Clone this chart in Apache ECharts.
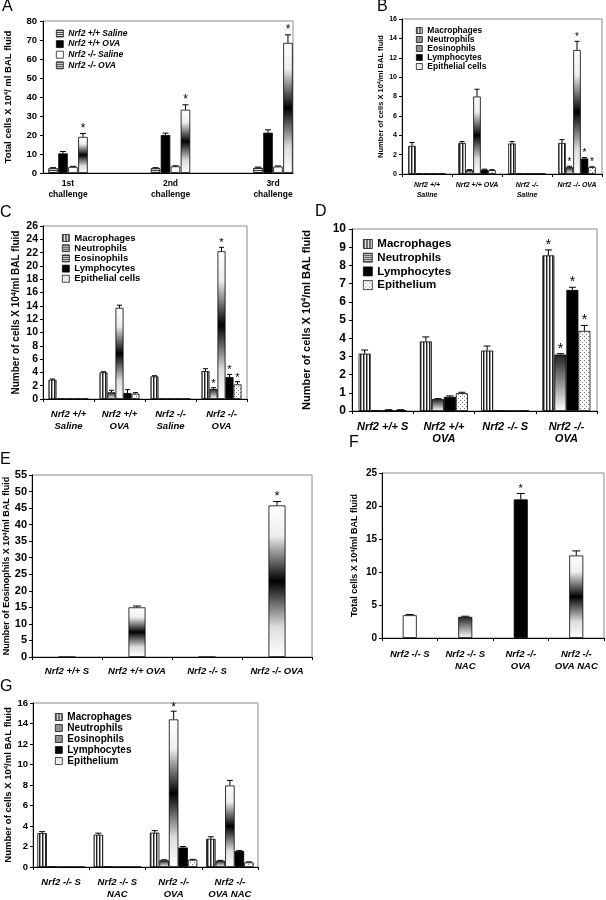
<!DOCTYPE html>
<html>
<head>
<meta charset="utf-8">
<script src="https://cdn.jsdelivr.net/npm/echarts@6/dist/echarts.min.js"></script>
<style>
  html, body { margin: 0; padding: 0; background: #fff; }
  #main { width: 606px; height: 900px; }
</style>
</head>
<body>
<div id="main"></div>
<script>
// ---- panel A: total cells after each challenge
const aCats = ['1st\nchallenge', '2nd\nchallenge', '3rd\nchallenge'];
const aNames = ['Nrf2 +/+ Saline', 'Nrf2 +/+ OVA', 'Nrf2 -/- Saline', 'Nrf2 -/- OVA'];
const aWtSal = [2.5, 2.5, 2.8];
const aWtOva = [10.3, 20.0, 21.2];
const aKoSal = [3.2, 3.5, 3.4];
const aKoOva = [19.0, 33.3, 68.5];
const aWtSalErr = [0.3, 0.3, 0.3];
const aWtOvaErr = [1.0, 1.0, 1.5];
const aKoSalErr = [0.3, 0.3, 0.3];
const aKoOvaErr = [1.8, 2.6, 4.2];
const aKoOvaSig = [1, 1, 1];

// ---- panel B
const bCats = ['Nrf2 +/+\nSaline', 'Nrf2 +/+ OVA', 'Nrf2 -/-\nSaline', 'Nrf2 -/- OVA'];
const bMac = [2.9, 3.2, 3.15, 3.2];
const bMacErr = [0.35, 0.15, 0.2, 0.35];
const bNeu = [0.05, 0.4, 0.05, 0.7];
const bNeuErr = [0, 0.05, 0, 0.1];
const bNeuSig = [0, 0, 0, 1];
const bEos = [0.05, 8.0, 0.05, 12.8];
const bEosErr = [0, 0.75, 0, 0.9];
const bEosSig = [0, 0, 0, 1];
const bLym = [0.05, 0.45, 0.05, 1.6];
const bLymErr = [0, 0.05, 0, 0.1];
const bLymSig = [0, 0, 0, 1];
const bEpi = [0.05, 0.4, 0.05, 0.7];
const bEpiErr = [0, 0.05, 0, 0.05];
const bEpiSig = [0, 0, 0, 1];

// ---- panel C
const cCats = ['Nrf2 +/+\nSaline', 'Nrf2 +/+\nOVA', 'Nrf2 -/-\nSaline', 'Nrf2 -/-\nOVA'];
const cMac = [2.9, 4.0, 3.4, 4.2];
const cMacErr = [0.1, 0.1, 0.1, 0.35];
const cNeu = [0.05, 1.0, 0.05, 1.5];
const cNeuErr = [0, 0.3, 0, 0.2];
const cNeuSig = [0, 0, 0, 1];
const cEos = [0.05, 13.7, 0.05, 22.2];
const cEosErr = [0, 0.4, 0, 0.6];
const cEosSig = [0, 0, 0, 1];
const cLym = [0.05, 0.9, 0.05, 3.3];
const cLymErr = [0, 0.5, 0, 0.4];
const cLymSig = [0, 0, 0, 1];
const cEpi = [0.05, 0.8, 0.05, 2.2];
const cEpiErr = [0, 0.15, 0, 0.4];
const cEpiSig = [0, 0, 0, 1];

// ---- panel D
const dCats = ['Nrf2 +/+ S', 'Nrf2 +/+\nOVA', 'Nrf2 -/- S', 'Nrf2 -/-\nOVA'];
const dMac = [3.15, 3.82, 3.32, 8.55];
const dMacErr = [0.2, 0.25, 0.25, 0.3];
const dMacSig = [0, 0, 0, 1];
const dNeu = [0.04, 0.65, 0.03, 3.1];
const dNeuErr = [0, 0.03, 0, 0.05];
const dNeuSig = [0, 0, 0, 1];
const dLym = [0.04, 0.78, 0.02, 6.65];
const dLymErr = [0.03, 0.05, 0, 0.15];
const dLymSig = [0, 0, 0, 1];
const dEpi = [0.05, 0.98, 0.02, 4.4];
const dEpiErr = [0.02, 0.05, 0, 0.3];
const dEpiSig = [0, 0, 0, 1];

// ---- panel E
const eCats = ['Nrf2 +/+ S', 'Nrf2 +/+ OVA', 'Nrf2 -/- S', 'Nrf2 -/- OVA'];
const eEos = [0, 15.0, 0, 45.8];
const eEosErr = [0, 0.4, 0, 1.2];
const eEosSig = [0, 0, 0, 1];

// ---- panel F
const fCats = ['Nrf2 -/- S', 'Nrf2 -/- S\nNAC', 'Nrf2 -/-\nOVA', 'Nrf2 -/-\nOVA NAC'];
const fTotal = [3.45, 3.2, 21.0, 12.5];
const fTotalErr = [0.1, 0.1, 0.9, 0.7];
const fTotalSig = [0, 0, 1, 0];

// ---- panel G
const gCats = ['Nrf2 -/- S', 'Nrf2 -/- S\nNAC', 'Nrf2 -/-\nOVA', 'Nrf2 -/-\nOVA NAC'];
const gMac = [3.3, 3.15, 3.35, 2.75];
const gMacErr = [0.15, 0.15, 0.2, 0.2];
const gNeu = [0.05, 0.05, 0.65, 0.6];
const gNeuErr = [0, 0, 0.05, 0.05];
const gEos = [0.02, 0.02, 14.4, 7.95];
const gEosErr = [0, 0, 0.8, 0.5];
const gEosSig = [0, 0, 1, 0];
const gLym = [0.02, 0.02, 1.9, 1.55];
const gLymErr = [0, 0, 0.1, 0.05];
const gEpi = [0.02, 0.02, 0.7, 0.45];
const gEpiErr = [0, 0, 0.05, 0.05];

const FONT = '"Liberation Sans", Arial, sans-serif';

// fill patterns
function pattern(w, h, draw) {
  const c = document.createElement('canvas');
  c.width = w; c.height = h;
  draw(c.getContext('2d'));
  return { image: c, repeat: 'repeat' };
}
const MAC = pattern(3, 1, g => {
  g.fillStyle = '#fff'; g.fillRect(0, 0, 3, 1);
  g.fillStyle = '#222'; g.fillRect(0, 0, 1, 1);
  g.fillStyle = '#999'; g.fillRect(1, 0, 1, 1);
});
const HSTRIPE = pattern(1, 2, g => {
  g.fillStyle = '#ddd'; g.fillRect(0, 0, 1, 2);
  g.fillStyle = '#444'; g.fillRect(0, 0, 1, 1);
});
const DOTS = pattern(4, 4, g => {
  g.fillStyle = '#fff'; g.fillRect(0, 0, 4, 4);
  g.fillStyle = '#777'; g.fillRect(0, 0, 1, 1); g.fillRect(2, 2, 1, 1);
});
const NEU = new echarts.graphic.LinearGradient(0, 0, 0, 1, [
  { offset: 0, color: '#222' }, { offset: 1, color: '#fff' }
]);
const EOS = new echarts.graphic.LinearGradient(0, 0, 0, 1, [
  { offset: 0, color: '#fff' }, { offset: 0.2, color: '#eee' },
  { offset: 0.5, color: '#000' },
  { offset: 0.8, color: '#ddd' }, { offset: 1, color: '#fff' }
]);

const option = {
  animation: false,
  backgroundColor: '#fff',
  textStyle: { fontFamily: FONT },
  title: [], grid: [], xAxis: [], yAxis: [], legend: [], series: []
};

function errBar(off, capW, starSize, starGap) {
  return function (params, api) {
    const ci = api.value(0), v = api.value(1), e = api.value(2), s = api.value(3);
    const p0 = api.coord([ci, v]);
    const p1 = api.coord([ci, v + e]);
    const x = p0[0] + off;
    const kids = [];
    if (e > 0) {
      kids.push({ type: 'line', shape: { x1: x, y1: p0[1], x2: x, y2: p1[1] }, style: { stroke: '#000', lineWidth: 1 } });
      kids.push({ type: 'line', shape: { x1: x - capW / 2, y1: p1[1], x2: x + capW / 2, y2: p1[1] }, style: { stroke: '#000', lineWidth: 1 } });
    }
    if (s) {
      kids.push({ type: 'text', x: x, y: p1[1] - starGap,
        style: { text: '*', align: 'center', verticalAlign: 'middle', fontSize: starSize, fontFamily: FONT, fill: '#000' } });
    }
    return { type: 'group', children: kids };
  };
}

function addPanel(p) {
  const [x0, y0, x1, y1] = p.frame;
  option.title.push({ text: p.letter, left: p.letterPos[0], top: p.letterPos[1], padding: 0,
    textStyle: { fontSize: 16, fontWeight: 'normal', fontFamily: FONT, color: '#000' } });
  const fg = option.grid.length;
  option.grid.push({ left: x0, top: y0, width: x1 - x0, height: y1 - y0, show: true,
    borderColor: '#8c8c8c', borderWidth: 1, backgroundColor: 'transparent' });
  const fy = option.yAxis.length;
  option.yAxis.push({
    type: 'value', gridIndex: fg, min: 0, max: p.max, interval: p.step,
    name: '{t|' + p.yName[0] + '}{s|4}{t|' + p.yName[1] + '}',
    nameLocation: 'middle', nameGap: p.nameGap,
    nameTextStyle: { rich: {
      t: { fontSize: p.nameSize, fontWeight: 'bold', fontFamily: FONT, color: '#000' },
      s: { fontSize: Math.round(p.nameSize * 0.65), fontWeight: 'bold', fontFamily: FONT, color: '#000', verticalAlign: 'top' }
    } },
    axisLine: { show: true, lineStyle: { color: '#000', width: 1 } },
    axisTick: { show: true, length: 3, lineStyle: { color: '#000' } },
    axisLabel: { fontSize: p.tickSize, fontWeight: 'bold', color: '#000', margin: p.tickMargin, fontFamily: FONT },
    splitLine: { show: false }
  });
  const catLabel = { interval: 0, fontSize: p.catSize, fontWeight: 'bold', fontStyle: p.catItalic ? 'italic' : 'normal',
    color: '#000', lineHeight: p.catLine, margin: p.catMargin, fontFamily: FONT };
  let bx, by = fy;
  if (p.barsX) {
    // frame axis only, bars sit on a wider hidden grid
    option.xAxis.push({ type: 'value', gridIndex: fg, min: 0, max: 1,
      axisLine: { show: true, lineStyle: { color: '#000' } }, axisTick: { show: false },
      axisLabel: { show: false }, splitLine: { show: false } });
    const bg = option.grid.length;
    option.grid.push({ left: p.barsX[0], top: y0, width: p.barsX[1] - p.barsX[0], height: y1 - y0, show: false });
    by = option.yAxis.length;
    option.yAxis.push({ type: 'value', gridIndex: bg, min: 0, max: p.max, show: false, splitLine: { show: false } });
    bx = option.xAxis.length;
    option.xAxis.push({ type: 'category', gridIndex: bg, data: p.cats,
      axisLine: { show: false }, axisTick: { show: false }, axisLabel: catLabel });
  } else {
    bx = option.xAxis.length;
    option.xAxis.push({ type: 'category', gridIndex: fg, data: p.cats,
      axisLine: { show: true, lineStyle: { color: '#000', width: 1 } },
      axisTick: { show: true, length: 3, lineStyle: { color: '#000' } },
      axisLabel: catLabel });
  }
  const n = p.series.length;
  p.series.forEach((s, i) => {
    const data = s.colors ? s.data.map((v, k) => ({ value: v, itemStyle: { color: s.colors[k] } })) : s.data;
    option.series.push({ type: 'bar', name: s.name, xAxisIndex: bx, yAxisIndex: by, data: data,
      barWidth: p.barW, barGap: (p.gap * 100) + '%', silent: true,
      itemStyle: { color: s.color || '#fff', borderColor: '#000', borderWidth: 0.8 } });
    const off = (i - (n - 1) / 2) * p.barW * (1 + p.gap);
    option.series.push({ type: 'custom', xAxisIndex: bx, yAxisIndex: by, silent: true, z: 5,
      renderItem: errBar(off, p.capW, p.starSize, p.starGap),
      data: s.data.map((v, k) => [k, v, s.err ? s.err[k] : 0, s.sig ? s.sig[k] : 0]) });
  });
  if (p.legend) {
    const L = p.legend;
    option.legend.push({
      left: L.x, top: L.y, orient: 'vertical', padding: 0, selectedMode: false,
      itemWidth: L.icon, itemHeight: L.icon, itemGap: L.gap,
      data: p.series.map(s => ({ name: s.name, icon: 'rect',
        itemStyle: { color: s.legendColor || s.color, borderColor: '#000', borderWidth: 0.7 } })),
      textStyle: { fontSize: L.font, fontWeight: 'bold', fontStyle: L.italic ? 'italic' : 'normal',
        color: '#000', lineHeight: L.lh, fontFamily: FONT }
    });
  }
}

const cellName = ['Number of cells X 10', '/ml BAL fluid'];

addPanel({
  letter: 'A', letterPos: [2, -1], frame: [43, 21, 293, 173], barsX: [16.75, 324.25],
  cats: aCats, max: 80, step: 10, yName: ['Total cells X 10', '/ ml BAL fluid'],
  nameSize: 9.5, nameGap: 30, tickSize: 9.5, tickMargin: 6,
  catSize: 8.5, catItalic: false, catLine: 11, catMargin: 5.5,
  barW: 9.5, gap: 0.05, capW: 6, starSize: 12, starGap: 5,
  legend: { x: 56, y: 29, icon: 7, gap: 1.6, font: 8.5, italic: true, lh: 9 },
  series: [
    { name: aNames[0], data: aWtSal, err: aWtSalErr, color: HSTRIPE },
    { name: aNames[1], data: aWtOva, err: aWtOvaErr, color: '#000' },
    { name: aNames[2], data: aKoSal, err: aKoSalErr, color: '#fff' },
    { name: aNames[3], data: aKoOva, err: aKoOvaErr, sig: aKoOvaSig, color: EOS, legendColor: HSTRIPE }
  ]
});

addPanel({
  letter: 'B', letterPos: [377, -1], frame: [402, 19, 602, 174],
  cats: bCats, max: 16, step: 2, yName: cellName,
  nameSize: 7.5, nameGap: 14, tickSize: 7, tickMargin: 5,
  catSize: 7, catItalic: true, catLine: 10, catMargin: 6,
  barW: 7.5, gap: 0, capW: 5, starSize: 10, starGap: 4,
  legend: { x: 416, y: 26, icon: 6, gap: 0, font: 8.5, italic: false, lh: 8.5 },
  series: [
    { name: 'Macrophages', data: bMac, err: bMacErr, color: MAC },
    { name: 'Neutrophils', data: bNeu, err: bNeuErr, sig: bNeuSig, color: NEU, legendColor: HSTRIPE },
    { name: 'Eosinophils', data: bEos, err: bEosErr, sig: bEosSig, color: EOS, legendColor: HSTRIPE },
    { name: 'Lymphocytes', data: bLym, err: bLymErr, sig: bLymSig, color: '#000' },
    { name: 'Epithelial cells', data: bEpi, err: bEpiErr, sig: bEpiSig, color: DOTS }
  ]
});

addPanel({
  letter: 'C', letterPos: [0, 205], frame: [43, 226, 247, 399],
  cats: cCats, max: 26, step: 2, yName: cellName,
  nameSize: 10, nameGap: 22, tickSize: 10.5, tickMargin: 5,
  catSize: 9.5, catItalic: true, catLine: 12, catMargin: 9,
  barW: 8, gap: 0, capW: 5, starSize: 11, starGap: 4,
  legend: { x: 62, y: 233, icon: 7, gap: 0.2, font: 9.5, italic: false, lh: 10 },
  series: [
    { name: 'Macrophages', data: cMac, err: cMacErr, color: MAC },
    { name: 'Neutrophils', data: cNeu, err: cNeuErr, sig: cNeuSig, color: NEU, legendColor: HSTRIPE },
    { name: 'Eosinophils', data: cEos, err: cEosErr, sig: cEosSig, color: EOS, legendColor: HSTRIPE },
    { name: 'Lymphocytes', data: cLym, err: cLymErr, sig: cLymSig, color: '#000' },
    { name: 'Epithelial cells', data: cEpi, err: cEpiErr, sig: cEpiSig, color: DOTS }
  ]
});

addPanel({
  letter: 'D', letterPos: [315, 204], frame: [352, 229, 597, 411],
  cats: dCats, max: 10, step: 1, yName: cellName,
  nameSize: 11, nameGap: 40, tickSize: 12, tickMargin: 6,
  catSize: 11, catItalic: true, catLine: 12, catMargin: 10,
  barW: 12, gap: 0, capW: 7, starSize: 14, starGap: 5,
  legend: { x: 363, y: 238, icon: 9, gap: 1.7, font: 11.5, italic: false, lh: 12 },
  series: [
    { name: 'Macrophages', data: dMac, err: dMacErr, sig: dMacSig, color: MAC },
    { name: 'Neutrophils', data: dNeu, err: dNeuErr, sig: dNeuSig, color: NEU, legendColor: HSTRIPE },
    { name: 'Lymphocytes', data: dLym, err: dLymErr, sig: dLymSig, color: '#000' },
    { name: 'Epithelium', data: dEpi, err: dEpiErr, sig: dEpiSig, color: DOTS }
  ]
});

addPanel({
  letter: 'E', letterPos: [0, 452], frame: [32, 475, 312, 657],
  cats: eCats, max: 55, step: 5, yName: ['Number of Eosinophils X 10', '/ml BAL fluid'],
  nameSize: 9, nameGap: 21, tickSize: 11, tickMargin: 5,
  catSize: 9.5, catItalic: true, catLine: 12, catMargin: 8,
  barW: 17, gap: 0, capW: 8, starSize: 13, starGap: 5,
  series: [
    { name: 'Eosinophils ', data: eEos, err: eEosErr, sig: eEosSig, color: EOS }
  ]
});

addPanel({
  letter: 'F', letterPos: [349, 435], frame: [382, 473, 604, 638],
  cats: fCats, max: 25, step: 5, yName: ['Total cells X 10', '/ml BAL fluid'],
  nameSize: 9, nameGap: 23, tickSize: 10, tickMargin: 5,
  catSize: 9.5, catItalic: true, catLine: 12, catMargin: 10,
  barW: 14, gap: 0, capW: 8, starSize: 11, starGap: 4,
  series: [
    { name: 'Total cells', data: fTotal, err: fTotalErr, sig: fTotalSig, colors: ['#fff', NEU, '#000', EOS] }
  ]
});

addPanel({
  letter: 'G', letterPos: [0, 679], frame: [33, 703, 258, 870],
  cats: gCats, max: 16, step: 2, yName: cellName,
  nameSize: 9.5, nameGap: 20, tickSize: 9.5, tickMargin: 5,
  catSize: 9.5, catItalic: true, catLine: 12, catMargin: 9,
  barW: 9.5, gap: 0, capW: 6, starSize: 12, starGap: 4,
  legend: { x: 55, y: 712, icon: 7, gap: 1, font: 10, italic: false, lh: 10 },
  series: [
    { name: 'Macrophages', data: gMac, err: gMacErr, color: MAC },
    { name: 'Neutrophils', data: gNeu, err: gNeuErr, color: NEU, legendColor: HSTRIPE },
    { name: 'Eosinophils', data: gEos, err: gEosErr, sig: gEosSig, color: EOS, legendColor: HSTRIPE },
    { name: 'Lymphocytes', data: gLym, err: gLymErr, color: '#000' },
    { name: 'Epithelium', data: gEpi, err: gEpiErr, color: DOTS }
  ]
});

const chart = echarts.init(document.getElementById('main'), null, { renderer: 'canvas' });
chart.setOption(option);
</script>
</body>
</html>
